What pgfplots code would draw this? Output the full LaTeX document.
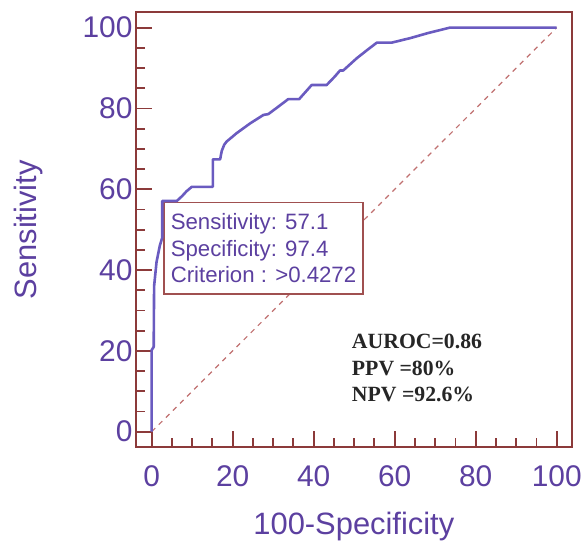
\documentclass[border=0pt]{standalone}
\usepackage{fontspec}
\setmainfont{Liberation Sans}
\newfontfamily\timesfont{Liberation Serif}
\usepackage{pgfplots}
\pgfplotsset{compat=1.18}

\definecolor{framec}{HTML}{8C3A3A}
\definecolor{curvec}{HTML}{6A5BC0}
\definecolor{labelc}{HTML}{5C40A0}
\definecolor{diagc}{HTML}{C07070}
\definecolor{boxc}{HTML}{A05050}

\begin{document}
\begin{tikzpicture}
\path[use as bounding box] (-136bp,-93.7bp) rectangle (449bp,447.3bp);
\begin{axis}[
    scale only axis,
    width=435.7bp, height=435bp,
    xmin=-3.87, xmax=103.7,
    ymin=-3.86, ymax=103.8,
    xtick={0,20,...,100}, ytick={0,20,...,100},
    minor tick num=3,
    xtick pos=left, ytick pos=left,
    tick align=inside,
    major tick length=16bp, minor tick length=9bp,
    every tick/.style={framec, line width=1.9bp},
    axis line style={framec, line width=2bp},
    /pgf/number format/assume math mode=true,
    ticklabel style={font=\fontsize{30}{36}\selectfont, text=labelc},
    xticklabel style={anchor=base, yshift=-39.4bp},
    label style={font=\fontsize{31}{37}\selectfont, text=labelc},
    xlabel={100-Specificity},
    ylabel={Sensitivity},
    xlabel style={at={(axis description cs:0.5,-0.2016)}, anchor=base},
    ylabel style={at={(axis description cs:-0.228,0.5)}, anchor=base},
]
% chance line
\addplot[diagc, line width=1.2bp, dash pattern=on 5bp off 5bp] coordinates {(0,0) (100,100)};

\node[draw=boxc, line width=1.3bp, fill=white, anchor=north west,
      inner xsep=6.7bp, inner ysep=11bp, align=left,
      font=\fontsize{22.3}{26.7}\selectfont, text=labelc]
      at (axis cs:2.9,56.9) {Sensitivity: 57.1\\Specificity: 97.4\\Criterion : >0.4272};

% ROC curve
\addplot[curvec, line width=2.6bp, line join=round] coordinates {
    (0,0) (0,20.2) (0.5,21) (0.6,36) (1.2,42) (2.0,46) (2.6,48) (2.6,57.1)
    (6.2,57.1) (7.5,58.3) (8.6,59.5) (9.9,60.6) (15.1,60.6) (15.1,67.4)
    (16.9,67.4) (17.3,69.5) (17.9,71.0) (18.5,71.8) (21.0,73.9) (24.3,76.3)
    (27.6,78.4) (28.8,78.6) (31.2,80.4) (33.7,82.3) (36.4,82.3) (39.5,85.8)
    (43.2,85.8) (45.3,88.0) (46.5,89.4) (47.3,89.4) (50.6,92.4) (53.0,94.3)
    (55.6,96.3) (59.3,96.3) (63.8,97.4) (68.0,98.6) (73.6,100) (100,100)
};

\node[anchor=base west, inner sep=0, text=black!85,
      font={\timesfont\bfseries\fontsize{21.8}{26}\selectfont}]
      at (axis cs:49.4,20.6) {AUROC=0.86};
\node[anchor=base west, inner sep=0, text=black!85,
      font={\timesfont\bfseries\fontsize{21.8}{26}\selectfont}]
      at (axis cs:49.4,14.0) {PPV =80\%};
\node[anchor=base west, inner sep=0, text=black!85,
      font={\timesfont\bfseries\fontsize{21.8}{26}\selectfont}]
      at (axis cs:49.4,7.4) {NPV =92.6\%};
\end{axis}
\end{tikzpicture}
\end{document}
